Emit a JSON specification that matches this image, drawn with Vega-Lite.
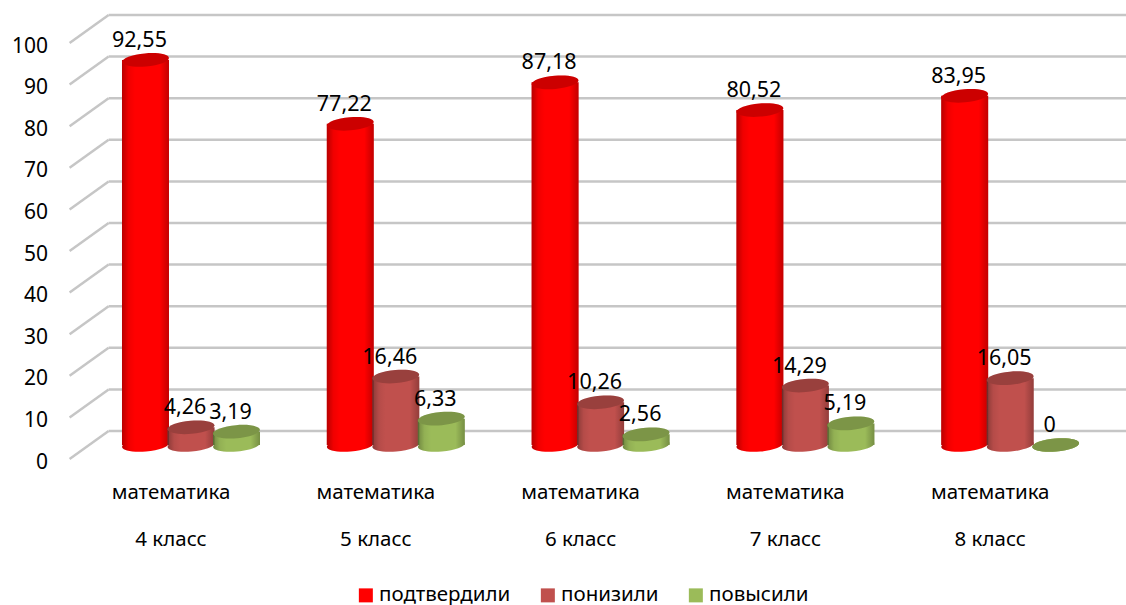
{"$schema":"https://vega.github.io/schema/vega-lite/v6.json","width":1024,"height":416,"autosize":{"type":"none"},"padding":{"left":88.6,"top":43,"right":13.4,"bottom":146},"background":"white","config":{"view":{"stroke":null},"font":"Noto Sans"},"datasets":{"grid":[{"v":0},{"v":10},{"v":20},{"v":30},{"v":40},{"v":50},{"v":60},{"v":70},{"v":80},{"v":90},{"v":100}],"bars":[{"klass":"4 класс","series":"подтвердили","value":92.55,"label":"92,55"},{"klass":"4 класс","series":"понизили","value":4.26,"label":"4,26"},{"klass":"4 класс","series":"повысили","value":3.19,"label":"3,19"},{"klass":"5 класс","series":"подтвердили","value":77.22,"label":"77,22"},{"klass":"5 класс","series":"понизили","value":16.46,"label":"16,46"},{"klass":"5 класс","series":"повысили","value":6.33,"label":"6,33"},{"klass":"6 класс","series":"подтвердили","value":87.18,"label":"87,18"},{"klass":"6 класс","series":"понизили","value":10.26,"label":"10,26"},{"klass":"6 класс","series":"повысили","value":2.56,"label":"2,56"},{"klass":"7 класс","series":"подтвердили","value":80.52,"label":"80,52"},{"klass":"7 класс","series":"понизили","value":14.29,"label":"14,29"},{"klass":"7 класс","series":"повысили","value":5.19,"label":"5,19"},{"klass":"8 класс","series":"подтвердили","value":83.95,"label":"83,95"},{"klass":"8 класс","series":"понизили","value":16.05,"label":"16,05"},{"klass":"8 класс","series":"повысили","value":0,"label":"0"}]},"resolve":{"scale":{"x":"independent"}},"layer":[{"data":{"name":"grid"},"layer":[{"mark":{"type":"rule","stroke":"#c6c6c6","strokeWidth":2.5,"y2Offset":-28},"encoding":{"x":{"datum":0,"type":"quantitative","axis":null,"scale":{"domain":[0,1056],"range":[-19,1037.4]}},"x2":{"datum":39},"y":{"field":"v","type":"quantitative","title":null,"scale":{"domain":[0,100],"nice":false},"axis":{"title":null,"values":[0,10,20,30,40,50,60,70,80,90,100],"domain":false,"ticks":false,"grid":false,"labelFontSize":21,"labelColor":"#000000","labelPadding":41,"labelOffset":3}},"y2":{"field":"v"}}},{"mark":{"type":"rule","stroke":"#c6c6c6","strokeWidth":2.5,"yOffset":-28},"encoding":{"x":{"datum":39,"type":"quantitative","axis":null,"scale":{"domain":[0,1056],"range":[-19,1037.4]}},"x2":{"datum":1056},"y":{"field":"v","type":"quantitative","title":null,"scale":{"domain":[0,100],"nice":false}}}}]},{"data":{"name":"bars"},"encoding":{"x":{"field":"klass","type":"nominal","sort":null,"scale":{"paddingInner":0,"paddingOuter":0},"axis":{"title":null,"labelAngle":0,"domain":false,"ticks":false,"labelOffset":-20,"labelFontSize":20.5,"labelColor":"#000000","labelPadding":23,"labelLineHeight":47,"labelExpr":"['математика', datum.value]"}},"xOffset":{"field":"series","type":"nominal","sort":null,"scale":{"domain":["подтвердили","понизили","повысили"],"paddingInner":0,"paddingOuter":0.75}},"y":{"field":"value","type":"quantitative","title":null,"scale":{"domain":[0,100],"nice":false}}},"layer":[{"mark":{"type":"point","filled":true,"opacity":1,"shape":"M-1,0A1,0.28 0 1 1 1,0A1,0.28 0 1 1 -1,0Z","size":2209,"angle":-5,"yOffset":-14},"encoding":{"y":{"datum":0,"type":"quantitative"},"color":{"field":"series","type":"nominal","sort":null,"scale":{"domain":["подтвердили","понизили","повысили"],"range":["#ff0000","#c0504d","#9bbb59"]},"legend":{"title":null,"orient":"none","legendX":267,"legendY":542,"direction":"horizontal","symbolType":"square","symbolSize":196,"symbolOpacity":1,"symbolStrokeWidth":0,"labelFontSize":20.5,"labelColor":"#000000","columnPadding":27,"labelOffset":3}}}},{"mark":{"type":"point","filled":true,"opacity":1,"shape":"M-1,0A1,0.28 0 1 1 1,0A1,0.28 0 1 1 -1,0Z","size":2209,"angle":-5,"yOffset":-14,"color":{"gradient":"linear","x1":0,"y1":0,"x2":1,"y2":0,"stops":[{"offset":0,"color":"rgba(0,0,0,0.28)"},{"offset":0.14,"color":"rgba(0,0,0,0.06)"},{"offset":0.28,"color":"rgba(0,0,0,0)"},{"offset":0.8,"color":"rgba(0,0,0,0)"},{"offset":1,"color":"rgba(0,0,0,0.24)"}]}},"encoding":{"y":{"datum":0,"type":"quantitative"}}},{"mark":{"type":"bar","width":47,"yOffset":-14,"y2Offset":-14},"encoding":{"color":{"field":"series","type":"nominal","sort":null}}},{"mark":{"type":"bar","width":47,"yOffset":-14,"y2Offset":-14,"color":{"gradient":"linear","x1":0,"y1":0,"x2":1,"y2":0,"stops":[{"offset":0,"color":"rgba(0,0,0,0.28)"},{"offset":0.14,"color":"rgba(0,0,0,0.06)"},{"offset":0.28,"color":"rgba(0,0,0,0)"},{"offset":0.8,"color":"rgba(0,0,0,0)"},{"offset":1,"color":"rgba(0,0,0,0.24)"}]}}},{"mark":{"type":"point","filled":true,"opacity":1,"shape":"M-1,0A1,0.28 0 1 1 1,0A1,0.28 0 1 1 -1,0Z","size":2209,"angle":-5,"yOffset":-14},"encoding":{"color":{"field":"series","type":"nominal","sort":null}}},{"mark":{"type":"point","filled":true,"opacity":0.2,"color":"#000000","shape":"M-1,0A1,0.28 0 1 1 1,0A1,0.28 0 1 1 -1,0Z","size":2209,"angle":-5,"yOffset":-14}},{"mark":{"type":"text","fontSize":21.5,"color":"#000000","yOffset":-33,"dx":-6},"encoding":{"text":{"field":"label"}}}]}]}
